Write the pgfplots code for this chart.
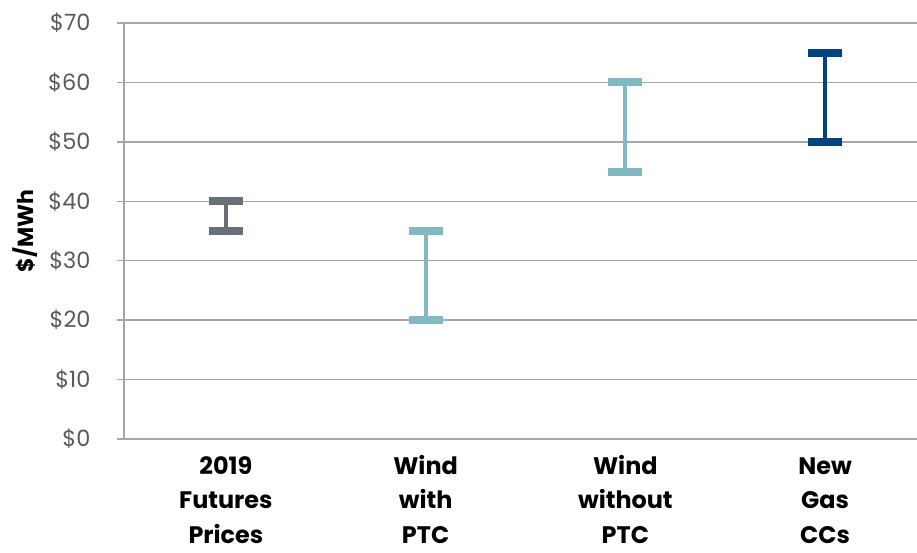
\documentclass[border=0pt]{standalone}
\usepackage{pgfplots}
\pgfplotsset{compat=1.18}
\usepackage{fontspec}
\setmainfont{Poppins}
\definecolor{futgray}{HTML}{68707A}
\definecolor{windteal}{HTML}{80B9C2}
\definecolor{gasblue}{HTML}{00447F}
\definecolor{gridgray}{HTML}{A6A6A6}
\definecolor{ticktext}{HTML}{595959}
\pgfplotsset{
  range/.style={line width=4bp, mark=-, mark size=17bp,
    mark options={line width=8bp, solid}},
}
\begin{document}
\begin{tikzpicture}
\useasboundingbox (0,0) rectangle (917bp,553bp);
\begin{axis}[
  at={(124bp,114bp)}, anchor=south west,
  scale only axis, width=793bp, height=416bp,
  xmin=-0.51, xmax=3.46, ymin=0, ymax=70,
  ytick={0,10,...,70},
  yticklabels={\$0,\$10,\$20,\$30,\$40,\$50,\$60,\$70},
  xtick={0,1,2,3},
  xticklabels={{\strut 2019\\Futures\\Prices},{\strut Wind\\with\\PTC},
    {\strut Wind\\without\\PTC},{\strut New\\Gas\\CCs}},
  xticklabel style={align=center, font=\fontsize{24}{34.5}\selectfont\bfseries,
    text=black, anchor=north, yshift=-1bp},
  yticklabel style={font=\fontsize{22.5}{26}\selectfont, text=ticktext, xshift=-23bp},
  ylabel={\$/MWh},
  ylabel style={at={(axis description cs:-0.125,0.5)}, anchor=center,
    font=\fontsize{22}{26}\selectfont\bfseries},
  axis lines*=left,
  axis line style={gridgray, line width=1.3bp},
  ymajorgrids, grid style={gridgray, line width=1.3bp},
  tick align=outside, major tick length=7bp,
  ytick style={gridgray, line width=1.3bp},
  xtick style={draw=none},
  clip=false,
]
% low and high end of each range
\addplot[futgray, range] coordinates {(0,35) (0,40)};
\addplot[windteal, range] coordinates {(1,20) (1,35)};
\addplot[windteal, range] coordinates {(2,45) (2,60)};
\addplot[gasblue, range] coordinates {(3,50) (3,65)};
\end{axis}
\end{tikzpicture}
\end{document}
